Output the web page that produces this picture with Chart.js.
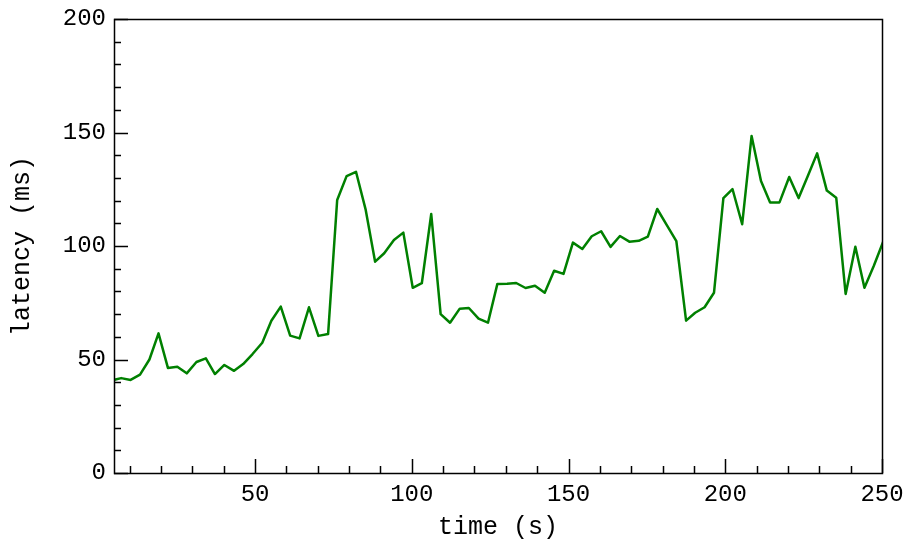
<!DOCTYPE html>
<html>
<head>
<meta charset="utf-8">
<style>
  html, body { margin: 0; padding: 0; background: #fff; }
  canvas { display: block; }
</style>
<script src="https://cdn.jsdelivr.net/npm/chart.js@4.4.1/dist/chart.umd.min.js"></script>
</head>
<body>
<canvas id="myChart" width="907" height="544"></canvas>
<script>
const times = [4.3, 7.3, 10.3, 13.3, 16.3, 19.2, 22.2, 25.2, 28.2, 31.3,
  34.3, 37.2, 40.2, 43.3, 46.2, 49.2, 52.3, 55.2, 58.2, 61.2,
  64.2, 67.2, 70.2, 73.3, 76.2, 79.2, 82.2, 85.3, 88.3, 91.2,
  94.3, 97.3, 100.3, 103.2, 106.2, 109.2, 112.2, 115.3, 118.2, 121.3,
  124.3, 127.3, 130.4, 133.3, 136.3, 139.3, 142.4, 145.4, 148.4, 151.4,
  154.4, 157.4, 160.4, 163.4, 166.4, 169.4, 172.4, 175.3, 178.3, 181.4,
  184.4, 187.5, 190.4, 193.4, 196.4, 199.4, 202.3, 205.4, 208.4, 211.4,
  214.3, 217.3, 220.4, 223.4, 226.4, 229.3, 232.4, 235.4, 238.4, 241.5,
  244.4, 247.4, 250.4];
const latency = [40.8, 41.8, 41.0, 43.3, 50.0, 61.5, 46.3, 46.8, 43.9, 48.9,
  50.5, 43.6, 47.6, 45.0, 48.0, 52.4, 57.4, 67.1, 73.3, 60.5,
  59.3, 73.0, 60.4, 61.2, 120.3, 130.8, 132.7, 115.9, 93.1, 96.8,
  102.6, 105.9, 81.6, 83.6, 114.1, 70.0, 66.2, 72.4, 72.7, 68.0,
  66.2, 83.3, 83.4, 83.7, 81.5, 82.5, 79.4, 89.1, 87.7, 101.5,
  98.7, 104.3, 106.5, 99.6, 104.4, 101.9, 102.3, 104.1, 116.3, 109.1,
  102.1, 67.1, 70.6, 73.0, 79.4, 121.1, 125.1, 109.6, 148.5, 128.6,
  119.2, 119.2, 130.4, 121.1, 131.1, 140.8, 124.4, 121.3, 78.9, 99.7,
  81.6, 91.3, 102.0];
const xTickLabels = [50, 100, 150, 200, 250];
const yTickLabels = [0, 50, 100, 150, 200];
const xMinorTicks = [10, 20, 30, 40, 50, 60, 70, 80, 90, 100, 110, 120, 130, 140, 150, 160, 170, 180, 190, 200, 210, 220, 230, 240, 250];
const yMinorTicks = [0, 10, 20, 30, 40, 50, 60, 70, 80, 90, 100, 110, 120, 130, 140, 150, 160, 170, 180, 190, 200];

const tickFont = { family: "'Liberation Mono', monospace", size: 24 };
const titleFont = { family: "'Liberation Mono', monospace", size: 25 };
const ctx = document.getElementById("myChart");

// frame + inward ticks
const frameTicks = {
  id: "frameTicks",
  afterDraw(chart) {
    const c = chart.ctx;
    const a = chart.chartArea;
    const xs = chart.scales.x;
    const ys = chart.scales.y;
    c.save();
    c.strokeStyle = "#000";
    c.lineWidth = 1.5;
    c.beginPath();
    xMinorTicks.forEach((v) => {
      const px = Math.round(xs.getPixelForValue(v)) + 0.5;
      const len = v % 50 === 0 ? 14 : 7;
      c.moveTo(px, a.bottom);
      c.lineTo(px, a.bottom - len);
    });
    yMinorTicks.forEach((v) => {
      const py = Math.round(ys.getPixelForValue(v)) + 0.5;
      const len = v % 50 === 0 ? 14 : 7;
      c.moveTo(a.left, py);
      c.lineTo(a.left + len, py);
    });
    c.stroke();
    c.strokeRect(Math.round(a.left) + 0.5, Math.round(a.top) + 0.5, Math.round(a.right - a.left), Math.round(a.bottom - a.top));
    c.restore();
  },
};

new Chart(ctx, {
  type: "line",
  data: {
    datasets: [
      {
        data: times.map((t, i) => ({ x: t, y: latency[i] })),
        borderColor: "#008000",
        borderWidth: 2.5,
        borderJoinStyle: "round",
        pointRadius: 0,
        tension: 0,
        fill: false,
        clip: 0,
      },
    ],
  },
  options: {
    responsive: false,
    animation: false,
    layout: { padding: { top: 19, right: 25, left: 0, bottom: 0 } },
    plugins: { legend: { display: false }, tooltip: { enabled: false } },
    scales: {
      x: {
        type: "linear",
        min: 5,
        max: 250,
        afterBuildTicks: (scale) => {
          scale.ticks = xTickLabels.map((v) => ({ value: v }));
        },
        afterFit: (scale) => {
          scale.height = 71;
          scale.paddingLeft = 0;
          scale.paddingRight = 0;
        },
        grid: { display: false, drawTicks: false },
        border: { display: false },
        ticks: { color: "#000", font: tickFont, padding: 7, maxRotation: 0, autoSkip: false },
        title: { display: true, text: "time (s)", color: "#000", font: titleFont, padding: { top: 0, bottom: 2 } },
      },
      y: {
        type: "linear",
        min: 0,
        max: 200,
        afterBuildTicks: (scale) => {
          scale.ticks = yTickLabels.map((v) => ({ value: v }));
        },
        afterFit: (scale) => {
          scale.width = 114;
          scale.paddingTop = 0;
          scale.paddingBottom = 0;
        },
        grid: { display: false, drawTicks: false },
        border: { display: false },
        ticks: { color: "#000", font: tickFont, padding: 8 },
        title: { display: true, text: "latency (ms)", color: "#000", font: titleFont, padding: { top: 7, bottom: 0 } },
      },
    },
  },
  plugins: [frameTicks],
});
</script>
</body>
</html>
